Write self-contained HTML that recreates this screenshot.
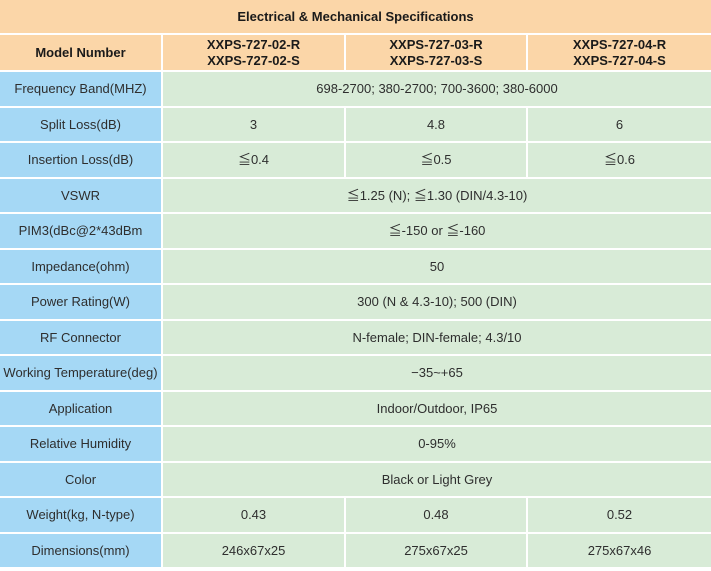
<!DOCTYPE html>
<html><head><meta charset="utf-8"><style>
body{margin:0;width:711px;height:571px;background:#fff;font-family:"Liberation Sans","Noto Sans CJK SC",sans-serif;overflow:hidden;position:relative}
.c{position:absolute;display:flex;align-items:center;justify-content:center;text-align:center;font-size:13px;color:#2e2e2e;line-height:16px}
.o{background:#fbd6a8;color:#1a1a1a;font-weight:bold}
.b{background:#a5d8f5}
.g{background:#d8ebd7}
</style></head><body>
<div id="t"></div>
<script>
const X=[0,162,345,527,711];
const rows=[
["Frequency Band(MHZ)","698-2700; 380-2700; 700-3600; 380-6000"],
["Split Loss(dB)","3","4.8","6"],
["Insertion Loss(dB)","≦0.4","≦0.5","≦0.6"],
["VSWR","≦1.25 (N); ≦1.30 (DIN/4.3-10)"],
["PIM3(dBc@2*43dBm","≦-150 or ≦-160"],
["Impedance(ohm)","50"],
["Power Rating(W)","300 (N & 4.3-10); 500 (DIN)"],
["RF Connector","N-female; DIN-female; 4.3/10"],
["Working Temperature(deg)","−35~+65"],
["Application","Indoor/Outdoor, IP65"],
["Relative Humidity","0-95%"],
["Color","Black or Light Grey"],
["Weight(kg, N-type)","0.43","0.48","0.52"],
["Dimensions(mm)","246x67x25","275x67x25","275x67x46"]];
const t=document.getElementById('t');
function cell(x0,x1,y,h,cls,html,name){
 const d=document.createElement('div');d.className='c '+cls;
 d.style.left=(x0===0?0:x0+1)+'px';d.style.width=(x1-(x0===0?0:x0+1)-(x1===711?0:1))+'px';
 d.style.top=y+'px';d.style.height=h+'px';d.innerHTML=html;
 
 
 t.appendChild(d);}
cell(0,711,0,33,'o','Electrical &amp; Mechanical Specifications','table-title');
cell(0,162,35,35,'o','Model Number','model-number-header');
for(let i=0;i<3;i++)cell(X[i+1],X[i+2],35,35,'o','XXPS-727-0'+(i+2)+'-R<br>XXPS-727-0'+(i+2)+'-S','model-header');
rows.forEach((r,i)=>{
 const y=Math.round(72+35.5*i),h=Math.round(72+35.5*(i+1))-y-2;
 cell(0,162,y,h,'b',r[0],'row-label');
 if(r.length===2)cell(162,711,y,h,'g',r[1],'row-value');
 else for(let j=0;j<3;j++)cell(X[j+1],X[j+2],y,h,'g',r[j+1],'row-value');
});
</script>
</body></html>
